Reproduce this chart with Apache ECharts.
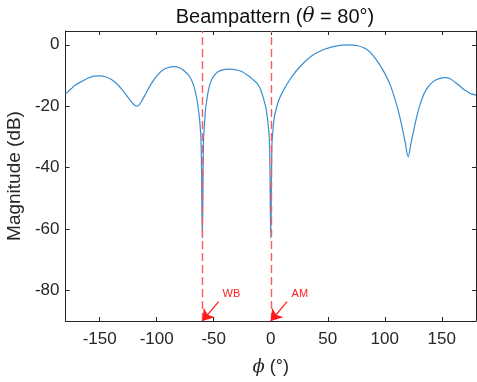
<!DOCTYPE html>
<html><head><meta charset="utf-8">
<script src="https://cdn.jsdelivr.net/npm/echarts@6/dist/echarts.min.js"></script>
<style>html,body{margin:0;padding:0;background:#fff}#c{width:477px;height:382px}</style>
</head><body><div id="c"></div>
<script>
// Beampattern data (phi in degrees, magnitude in dB)
const phi = [-180,-175,-171,-165,-160,-155,-150,-145,-140,-135,-130,-125,-121,-119,-117,-115,-113,-110,-105,-100,-95,-90,-85,-80,-75,-71,-68,-66,-64,-62,-61,-60,-59,-58,-57,-55,-53,-50,-46,-40,-36,-30,-25,-20,-15,-12,-9,-6,-4,-2,-1,0,1,2,3,5,8,12,16,20,25,31,38,46,55,62,67,72,76,80,85,90,95,100,105,110,114,117.7,120.5,123,125,128,131,135,140,145,150,153,157,162,166,171,176,180];
const mag = [-16,-14.3,-13,-11.8,-10.8,-10.2,-10.1,-10.4,-11.2,-12.7,-14.8,-17.2,-19.1,-19.8,-20,-19.4,-18.2,-16.2,-12.8,-10.2,-8.3,-7.4,-7.1,-7.5,-8.8,-10.4,-12.8,-15.5,-19.5,-26,-33,-63,-32,-25,-20.5,-15.5,-12.4,-10.2,-8.7,-8,-7.9,-8.2,-8.8,-10,-11.5,-12.6,-14.5,-18,-21,-27,-33,-63,-33,-27.5,-24,-20.5,-17.2,-14.3,-11.8,-9.6,-7.4,-5.1,-3.1,-1.6,-0.6,-0.1,0,-0.1,-0.3,-0.7,-1.7,-3.6,-6.2,-9.3,-13.3,-19,-24.8,-31.4,-36.5,-32,-28.5,-23.5,-19.4,-15.5,-12.8,-11.4,-10.8,-10.7,-11,-12.3,-13.5,-15,-16,-16.4];
const xTicks = [-150,-100,-50,0,50,100,150];
const yTicks = [-80,-60,-40,-20,0];
const markers = [-60, 0];
const markerNames = ['WB', 'AM'];

const font = 'Liberation Sans, Arial, Helvetica, sans-serif';
const axCol = '#262626';
const series = phi.map((p,i)=>[p,mag[i]]);

const chart = echarts.init(document.getElementById('c'));
function baseX(pos, labels){
  return {type:'value', position:pos, min:-180, max:180,
    axisLine:{show:true, onZero:false, lineStyle:{color:axCol,width:1}},
    axisTick:{show:true, inside:true, length:4, customValues:xTicks, lineStyle:{color:axCol}},
    axisLabel:{show:labels, customValues:xTicks, color:axCol, fontFamily:font, fontSize:17, margin:10},
    splitLine:{show:false}};
}
function baseY(pos, labels){
  return {type:'value', position:pos, min:-90, max:4.5,
    axisLine:{show:true, onZero:false, lineStyle:{color:axCol,width:1}},
    axisTick:{show:true, inside:true, length:4, customValues:yTicks, lineStyle:{color:axCol}},
    axisLabel:{show:labels, customValues:yTicks, color:axCol, fontFamily:font, fontSize:17, margin:6},
    splitLine:{show:false}};
}
const xa = baseX('bottom', true);
xa.name = '{i|ϕ}{a| (°)}';
xa.nameLocation = 'middle';
xa.nameGap = 37;
xa.nameTextStyle = {rich:{i:{fontStyle:'italic',fontFamily:'DejaVu Serif, serif',fontSize:18,color:axCol},a:{fontFamily:font,fontSize:18,color:axCol}}};
const ya = baseY('left', true);
ya.name = 'Magnitude (dB)';
ya.nameLocation = 'middle';
ya.nameGap = 37;
ya.nameTextStyle = {fontFamily:font, fontSize:19, color:axCol};

const arrowData = markers.map(m=>[{coord:[m+14.3,-83.7]},{coord:[m,-90]}]);
const labelData = markers.map((m,i)=>({coord:[m+25.5,-81.1], value:markerNames[i]}));

chart.setOption({
  animation:false,
  title:{text:'{a|Beampattern (}{i|θ}{a| = 80°)}', left:270, textAlign:'center', top:2,
    textStyle:{fontWeight:'normal', rich:{a:{fontFamily:font,fontSize:20,fontWeight:'normal',color:'#111'},i:{fontFamily:'DejaVu Serif, serif',fontStyle:'italic',fontWeight:'normal',fontSize:20,color:'#111'}}}},
  grid:{left:65.5, right:1, top:31, bottom:61, outerBoundsMode:'none', containLabel:false},
  xAxis:[xa, baseX('top', false)],
  yAxis:[ya, baseY('right', false)],
  series:[
    {type:'line', data:series, showSymbol:false, smooth:0.3,
     lineStyle:{color:'#3a8dcf', width:1.2}, z:3,
     markLine:{silent:true, symbol:'none', animation:false,
       lineStyle:{color:'#ff5a5a', type:[8,4], width:1.4},
       label:{show:false}, data:markers.map(m=>({xAxis:m}))}},
    {type:'line', data:[], z:4, clip:false,
     markLine:{silent:true, symbol:['none','arrow'], symbolSize:11, animation:false,
       lineStyle:{color:'#ff1a1a', type:'solid', width:1.2}, label:{show:false}, data:arrowData},
     markPoint:{symbol:'circle', symbolSize:0, animation:false,
       label:{show:true, formatter:p=>p.value, color:'#ff2020', fontFamily:font, fontSize:11, position:'inside'},
       data:labelData}}
  ]
});
</script></body></html>
